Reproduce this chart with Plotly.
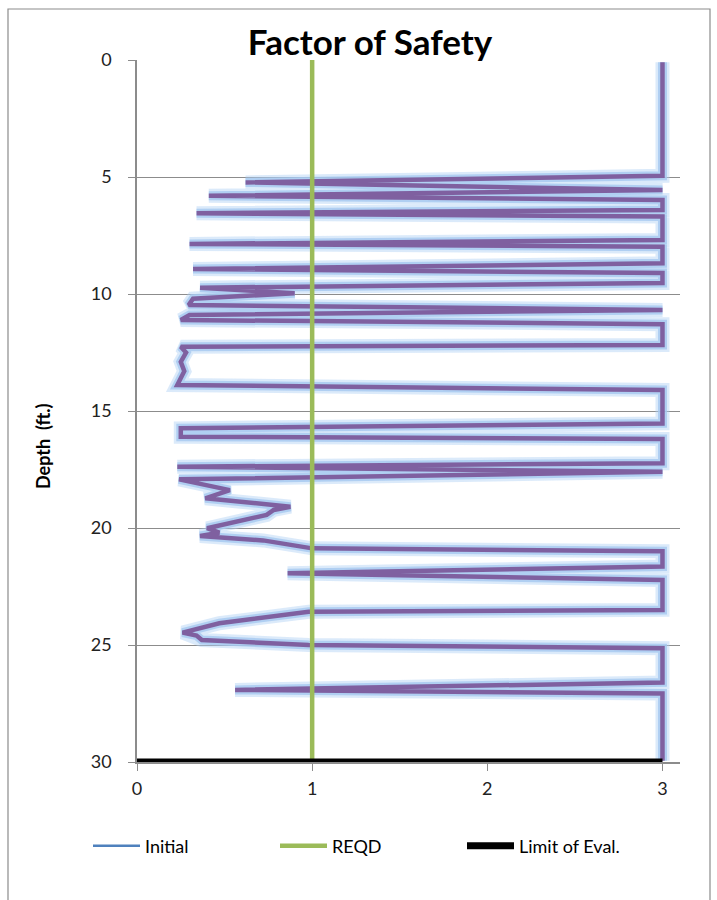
import plotly.graph_objects as go

# Factor of safety profile (Initial): depth (ft) and FS values
depth = [0.1, 4.95, 5.23, 5.56, 5.80, 5.98, 6.41, 6.55, 6.69, 7.69, 7.86, 7.98,
         8.69, 8.93, 9.10, 9.53, 9.73, 9.97, 10.20, 10.47, 10.68, 10.90, 11.11,
         11.29, 12.18, 12.25, 12.50, 12.90, 13.30, 13.89, 14.10, 15.53, 15.74,
         16.10, 16.20, 17.23, 17.38, 17.60, 17.92, 18.38, 18.73, 19.09, 19.23,
         19.44, 20.01, 20.20, 20.34, 20.53, 20.87, 20.99, 21.65, 21.93, 22.22,
         23.50, 23.58, 23.82, 24.07, 24.47, 24.60, 24.79, 25.00, 25.14, 26.60,
         26.92, 27.07, 29.95]
fs = [3.0, 3.0, 0.62, 3.0, 0.41, 3.0, 3.0, 0.34, 3.0, 3.0, 0.30, 3.0,
      3.0, 0.32, 3.0, 3.0, 0.36, 0.90, 0.32, 0.295, 3.0, 0.30, 0.25,
      3.0, 3.0, 0.25, 0.28, 0.25, 0.27, 0.23, 3.0, 3.0, 0.25,
      0.25, 3.0, 3.0, 0.23, 3.0, 0.24, 0.53, 0.39, 0.876, 0.78,
      0.74, 0.40, 0.47, 0.36, 0.72, 1.0, 3.0, 3.0, 0.86, 3.0,
      3.0, 0.98, 0.74, 0.47, 0.26, 0.34, 0.37, 0.98, 3.0, 3.0,
      0.56, 3.0, 3.0]

reqd_fs = [1, 1]
reqd_depth = [0, 30]
limit_fs = [0, 3]
limit_depth = [30, 30]

x_ticks = [0, 1, 2, 3]
y_ticks = [0, 5, 10, 15, 20, 25, 30]

FONT = "Lato"
fig = go.Figure()

# glow layers
fig.add_trace(go.Scatter(x=fs, y=depth, mode="lines", showlegend=False, hoverinfo="skip",
                         line=dict(color="rgba(175,208,244,0.45)", width=14)))
fig.add_trace(go.Scatter(x=fs, y=depth, mode="lines", showlegend=False, hoverinfo="skip",
                         line=dict(color="rgba(165,200,240,0.8)", width=9)))
fig.add_trace(go.Scatter(x=fs, y=depth, mode="lines", showlegend=False, name="Initial",
                         line=dict(color="#7F60A0", width=4.5)))
# legend entry for Initial
fig.add_trace(go.Scatter(x=[None], y=[None], mode="lines", name="Initial",
                         line=dict(color="#4F81BD", width=2.5)))
fig.add_trace(go.Scatter(x=reqd_fs, y=reqd_depth, mode="lines", name="REQD",
                         line=dict(color="#9BBB59", width=4.5)))
fig.add_trace(go.Scatter(x=limit_fs, y=limit_depth, mode="lines", name="Limit of Eval.",
                         line=dict(color="#000000", width=7)))

L, R, T, B = 137, 37, 60, 138
W, H = 717, 900
pw, ph = W - L - R, H - T - B

def px(xp):
    return (xp - L) / pw

def py(yp):
    return (H - B - yp) / ph

fig.update_layout(
    width=W, height=H,
    margin=dict(l=L, r=R, t=T, b=B),
    paper_bgcolor="white", plot_bgcolor="white",
    font=dict(family=FONT, color="#222222", size=18),
    title=dict(text="<b>Factor of Safety</b>", x=370 / W, xanchor="center",
               y=1 - 43 / H, yanchor="middle", yref="container",
               font=dict(family=FONT, size=35, color="#000000")),
    xaxis=dict(range=[0, 3.1], tickvals=x_ticks, showgrid=False, zeroline=False,
               showline=True, linecolor="#8c8c8c", linewidth=1.5,
               ticks="outside", ticklen=7, tickcolor="#8c8c8c", ticklabelstandoff=3,
               tickfont=dict(size=18, family=FONT, color="#222222")),
    yaxis=dict(range=[30, 0], tickvals=y_ticks, showgrid=True, gridcolor="#8c8c8c",
               gridwidth=1.2, zeroline=False, showline=True, linecolor="#8c8c8c",
               linewidth=1.5, ticks="outside", ticklen=7, tickcolor="#8c8c8c",
               ticklabelstandoff=13,
               tickfont=dict(size=18, family=FONT, color="#222222")),
    showlegend=True,
    legend=dict(orientation="h", x=px(88), y=py(846), xanchor="left", yanchor="middle",
                entrywidth=125, entrywidthmode="pixels", itemwidth=47,
                font=dict(size=18, family=FONT, color="#000000"),
                bgcolor="rgba(0,0,0,0)"),
    annotations=[dict(text="<b>Depth  (ft.)</b>", textangle=-90, xref="paper", yref="paper",
                      x=px(43), y=py(446), xanchor="center", yanchor="middle",
                      showarrow=False, font=dict(size=18, family=FONT, color="#000000"))],
    shapes=[dict(type="rect", xref="paper", yref="paper", x0=px(8), x1=px(710),
                 y0=py(910), y1=py(9), line=dict(color="#8c8c8c", width=1.2),
                 layer="below")],
)

fig.write_html("out.html", config={"displayModeBar": False},
               post_script="document.body.style.margin='0';")
